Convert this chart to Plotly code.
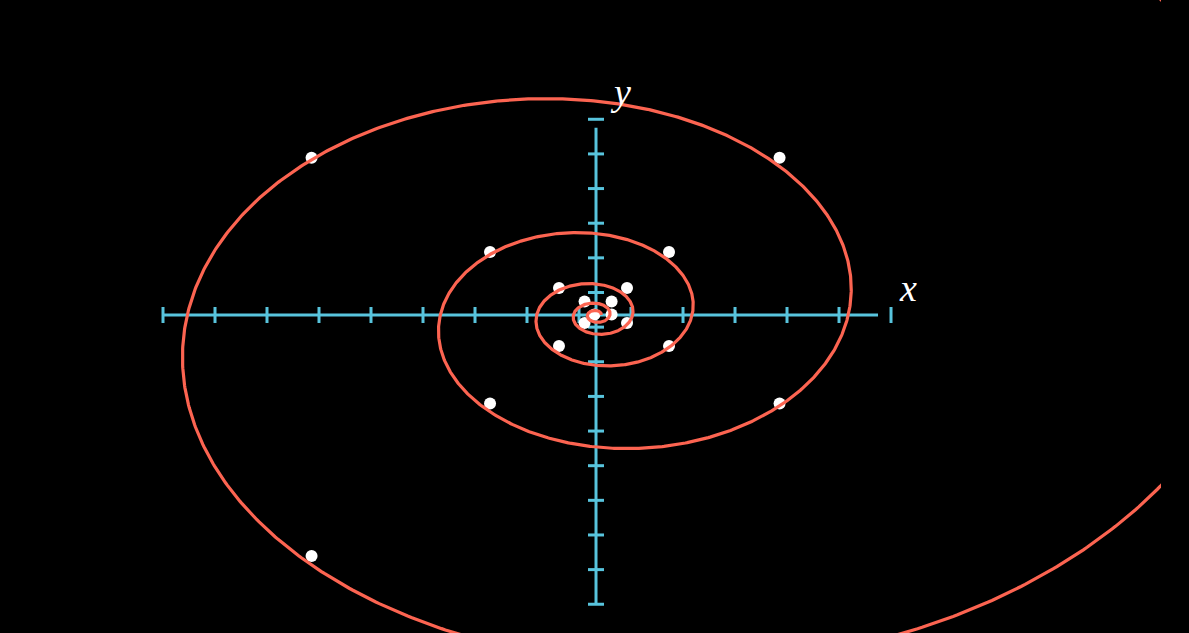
import numpy as np
import plotly.graph_objects as go

# ---- data (axis units) ----
# white sample points (staircase iterates)
dot_x = [-0.03, 0.30, 0.30, -0.22, -0.22, 0.596, 0.596, -0.712, -0.712,
         1.404, 1.404, -2.038, -2.038, 3.53, 3.53, -5.47, -5.47]
dot_y = [0.015, 0.015, 0.39, 0.39, -0.231, -0.231, 0.779, 0.779, -0.895,
         -0.895, 1.819, 1.819, -2.555, -2.555, 4.54, 4.54, -6.957]

# logarithmic spiral r = k * exp(rate * theta)
spiral_k = 1.848
spiral_rate = 0.1536
theta_start = -6 * np.pi
theta_end = 5 * np.pi

# axes (tick positions and line extents)
x_ticks = [-8.327, -7.327, -6.327, -5.327, -4.327, -3.327, -2.327, -1.327,
           -0.327, 0.673, 1.673, 2.673, 3.673, 4.673, 5.673]
y_ticks = [5.65, 4.65, 3.65, 2.65, 1.65, 0.65, -0.35, -1.35, -2.35, -3.35,
           -4.35, -5.35, -6.35, -7.35, -8.35]
x_axis_line = [-8.327, 5.423]
y_axis_line = [-8.352, 5.407]

AXIS_COLOR = "#58C4DD"
CURVE_COLOR = "#FC6451"

fig = go.Figure()

# axis lines
fig.add_trace(go.Scatter(x=x_axis_line, y=[0, 0], mode="lines",
                         line=dict(color=AXIS_COLOR, width=3), hoverinfo="skip"))
fig.add_trace(go.Scatter(x=[0, 0], y=y_axis_line, mode="lines",
                         line=dict(color=AXIS_COLOR, width=3), hoverinfo="skip"))

# ticks
tx, ty = [], []
for t in x_ticks:
    tx += [t, t, None]
    ty += [-0.231, 0.231, None]
fig.add_trace(go.Scatter(x=tx, y=ty, mode="lines",
                         line=dict(color=AXIS_COLOR, width=3), hoverinfo="skip"))
sx, sy = [], []
for t in y_ticks:
    sx += [-0.154, 0.154, None]
    sy += [t, t, None]
fig.add_trace(go.Scatter(x=sx, y=sy, mode="lines",
                         line=dict(color=AXIS_COLOR, width=3), hoverinfo="skip"))

# dots
fig.add_trace(go.Scatter(x=dot_x, y=dot_y, mode="markers",
                         marker=dict(color="white", size=12, line=dict(width=0)),
                         hoverinfo="skip"))

# spiral curve
theta = np.linspace(theta_start, theta_end, 4000)
r = spiral_k * np.exp(spiral_rate * theta)
fig.add_trace(go.Scatter(x=r * np.cos(theta), y=r * np.sin(theta), mode="lines",
                         line=dict(color=CURVE_COLOR, width=3.2), hoverinfo="skip"))

fig.add_annotation(x=6.0, y=0.78, text="x", showarrow=False,
                   font=dict(family="Liberation Serif", size=38, color="white", style="italic"),
                   xanchor="center", yanchor="middle")
fig.add_annotation(x=0.48, y=6.45, text="y", showarrow=False,
                   font=dict(family="Liberation Serif", size=38, color="white", style="italic"),
                   xanchor="center", yanchor="middle")

fig.update_layout(
    width=1189, height=633,
    margin=dict(l=0, r=28, t=0, b=0),
    paper_bgcolor="black", plot_bgcolor="black",
    showlegend=False,
    xaxis=dict(range=[-11.4615, 10.865], visible=False, fixedrange=True),
    yaxis=dict(range=[-9.180, 9.0935], visible=False, fixedrange=True),
)

fig.write_html("out.html", config={"displayModeBar": False},
               post_script="document.body.style.margin='0';document.body.style.background='black';document.body.style.overflow='hidden';")
